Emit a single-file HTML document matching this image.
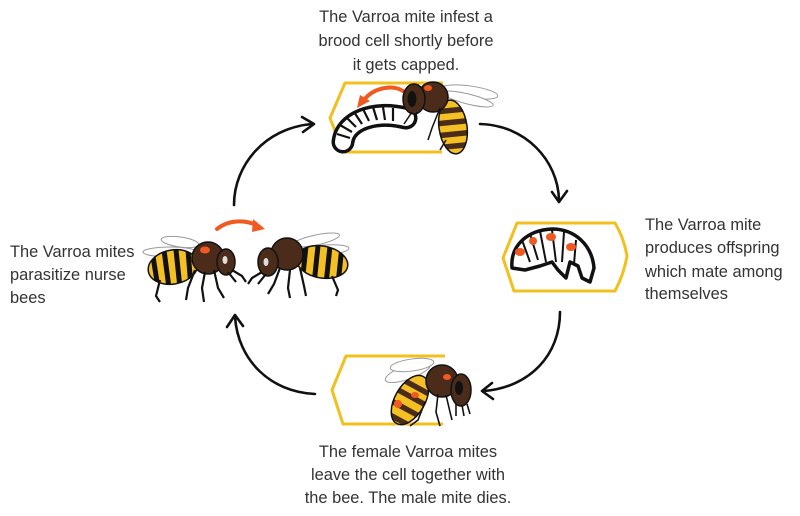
<!DOCTYPE html>
<html><head><meta charset="utf-8"><style>
html,body{margin:0;padding:0;background:#fff;}
svg{display:block;}
text{font-family:"Liberation Sans",sans-serif;font-size:16.4px;fill:#333;}
</style></head><body>
<svg width="800" height="516" viewBox="0 0 800 516" xmlns="http://www.w3.org/2000/svg">
<defs>
<clipPath id="abTop"><ellipse cx="453" cy="127" rx="14" ry="27" transform="rotate(-8 453 127)"/></clipPath>
<clipPath id="abBot"><ellipse cx="410" cy="400" rx="15" ry="27" transform="rotate(30 410 400)"/></clipPath>
<clipPath id="abL"><ellipse cx="173" cy="267" rx="25" ry="17" transform="rotate(-10 173 267)"/></clipPath>
<clipPath id="abR"><ellipse cx="322" cy="262" rx="26" ry="16" transform="rotate(10 322 262)"/></clipPath>
</defs>

<!-- texts -->
<text x="406" y="22" text-anchor="middle">The Varroa mite infest a</text>
<text x="406" y="46" text-anchor="middle">brood cell shortly before</text>
<text x="406" y="70" text-anchor="middle">it gets capped.</text>

<text x="10" y="257">The Varroa mites</text>
<text x="10" y="280">parasitize nurse</text>
<text x="10" y="303">bees</text>

<text x="645" y="230">The Varroa mite</text>
<text x="645" y="253">produces offspring</text>
<text x="645" y="277">which mate among</text>
<text x="645" y="299">themselves</text>

<text x="408" y="457" text-anchor="middle">The female Varroa mites</text>
<text x="408" y="480" text-anchor="middle">leave the cell together with</text>
<text x="408" y="503" text-anchor="middle">the bee. The male mite dies.</text>

<!-- cycle arrows -->
<g fill="none" stroke="#111" stroke-width="2.6" stroke-linecap="round" stroke-linejoin="round">
<path d="M234,205 C234,165 265,128 312,124"/>
<path d="M302,117 L314,124 L303,132"/>
<path d="M480,124 C525,125 558,160 559,200"/>
<path d="M552,192 L559,202 L567,191"/>
<path d="M560,312 C560,355 530,387 484,391"/>
<path d="M492,383 L482,391 L493,399"/>
<path d="M315,394 C270,392 238,360 235,317"/>
<path d="M227,327 L235,315 L243,326"/>
</g>

<!-- cells -->
<g fill="none" stroke="#f2c01d" stroke-width="3" stroke-linejoin="round">
<path d="M443,83 L345,83 L330,118 L343,152 L442,152"/>
<path d="M517,223 L615,223 Q624,238 627,256 Q624,274 615,291 L514,291 L503,258 Z"/>
<path d="M445,356 L346,356 L332,390 L343,424 L443,424"/>
</g>

<!-- TOP: larva -->
<g>
<path d="M343,142 C345,122 372,110 406,118" fill="none" stroke="#111" stroke-width="23" stroke-linecap="round"/>
<path d="M343,142 C345,122 372,110 406,118" fill="none" stroke="#fff" stroke-width="16" stroke-linecap="round"/>
<g stroke="#111" stroke-width="2.2">
<line x1="337" y1="134" x2="350" y2="138"/>
<line x1="340" y1="125" x2="352" y2="132"/>
<line x1="346" y1="117" x2="356" y2="127"/>
<line x1="354" y1="112" x2="362" y2="124"/>
<line x1="363" y1="109" x2="369" y2="121"/>
<line x1="373" y1="107" x2="377" y2="120"/>
<line x1="383" y1="107" x2="385" y2="120"/>
<line x1="393" y1="108" x2="393" y2="121"/>
</g>
<!-- orange arrow -->
<path d="M403,91 C392,84 373,88 364,100" fill="none" stroke="#f05a22" stroke-width="4" stroke-linecap="round"/>
<path d="M357,108 L360,95 L370,101 Z" fill="#f05a22"/>
<!-- bee -->
<ellipse cx="470" cy="92" rx="28" ry="6" transform="rotate(8 470 92)" fill="#fff" stroke="#999" stroke-width="1"/>
<ellipse cx="468" cy="99" rx="26" ry="5" transform="rotate(14 468 99)" fill="#fff" stroke="#999" stroke-width="1"/>
<g clip-path="url(#abTop)">
<rect x="435" y="95" width="40" height="65" fill="#f5c024"/>
<g stroke="#4b2c1b" stroke-width="5.5">
<line x1="435" y1="112" x2="475" y2="108"/>
<line x1="435" y1="124" x2="475" y2="120"/>
<line x1="435" y1="136" x2="475" y2="132"/>
<line x1="435" y1="148" x2="475" y2="144"/>
</g>
</g>
<ellipse cx="453" cy="127" rx="14" ry="27" transform="rotate(-8 453 127)" fill="none" stroke="#111" stroke-width="1.5"/>
<circle cx="433" cy="97" r="15" fill="#4b2c1b" stroke="#111" stroke-width="1.5"/>
<ellipse cx="414" cy="99" rx="11" ry="15" fill="#4b2c1b" stroke="#111" stroke-width="1.5"/>
<ellipse cx="412" cy="99" rx="4.5" ry="8" fill="#111"/>
<ellipse cx="428" cy="88" rx="4" ry="3" fill="#f05a22"/>
<g stroke="#111" stroke-width="1.5" fill="none">
<path d="M412,112 L404,124"/><path d="M417,112 L413,126"/>
<path d="M440,108 L432,128 L428,140"/><path d="M446,140 L440,150"/>
</g>
</g>

<!-- MIDDLE RIGHT: pupa -->
<g>
<path d="M512,268 C510,245 528,230 552,229 C575,229 592,245 594,268 L590,282 L582,278 L578,266 L570,262 L566,278 L558,270 L552,262 L540,266 L525,270 Z" fill="#fff" stroke="#111" stroke-width="3.5" stroke-linejoin="round"/>
<g stroke="#111" stroke-width="2" fill="none">
<path d="M522,240 L530,262"/><path d="M530,234 L538,260"/><path d="M540,231 L546,262"/>
<path d="M552,230 L556,262"/><path d="M564,232 L562,262"/>
<path d="M576,240 L574,264"/>
</g>
<ellipse cx="520" cy="252" rx="5" ry="4" fill="#f05a22"/>
<ellipse cx="533" cy="241" rx="4" ry="4" fill="#f05a22"/>
<ellipse cx="551" cy="237" rx="5" ry="4" fill="#f05a22"/>
<ellipse cx="571" cy="247" rx="5" ry="4" fill="#f05a22"/>
</g>

<!-- BOTTOM: bee -->
<g>
<ellipse cx="408" cy="372" rx="24" ry="7" transform="rotate(-20 408 372)" fill="#fff" stroke="#999" stroke-width="1"/>
<ellipse cx="412" cy="365" rx="22" ry="6" transform="rotate(-8 412 365)" fill="#fff" stroke="#999" stroke-width="1"/>
<g clip-path="url(#abBot)">
<rect x="385" y="370" width="55" height="65" fill="#f5c024"/>
<g stroke="#4b2c1b" stroke-width="5.5">
<line x1="385" y1="370" x2="440" y2="400"/>
<line x1="380" y1="380" x2="435" y2="410"/>
<line x1="375" y1="392" x2="430" y2="422"/>
<line x1="370" y1="404" x2="425" y2="434"/>
</g>
</g>
<ellipse cx="410" cy="400" rx="15" ry="27" transform="rotate(30 410 400)" fill="none" stroke="#111" stroke-width="1.5"/>
<circle cx="442" cy="381" r="16" fill="#4b2c1b" stroke="#111" stroke-width="1.5"/>
<ellipse cx="461" cy="390" rx="10" ry="16" fill="#4b2c1b" stroke="#111" stroke-width="1.5"/>
<ellipse cx="459" cy="388" rx="4" ry="7" fill="#111"/>
<ellipse cx="447" cy="377" rx="4" ry="3" fill="#f05a22"/>
<ellipse cx="398" cy="404" rx="4" ry="4" fill="#f05a22"/>
<ellipse cx="415" cy="395" rx="4" ry="3" fill="#f05a22"/>
<g stroke="#111" stroke-width="1.6" fill="none">
<path d="M438,394 L436,412 L440,426"/><path d="M446,395 L450,412 L452,420"/>
<path d="M456,404 L456,416"/><path d="M462,405 L464,416"/><path d="M467,404 L470,414"/>
<path d="M425,402 L418,420 L410,426"/>
</g>
</g>

<!-- LEFT: two bees -->
<g>
<!-- orange arrow -->
<path d="M217,229 C228,220 245,219 258,226" fill="none" stroke="#f05a22" stroke-width="4" stroke-linecap="round"/>
<path d="M265,229 L253,219 L252,232 Z" fill="#f05a22"/>
<!-- left bee -->
<ellipse cx="180" cy="242" rx="19" ry="5" transform="rotate(8 180 242)" fill="#fff" stroke="#999" stroke-width="1"/>
<ellipse cx="170" cy="252" rx="27" ry="5" fill="#fff" stroke="#999" stroke-width="1"/>
<g clip-path="url(#abL)">
<rect x="145" y="248" width="55" height="40" fill="#f5c024"/>
<g stroke="#111" stroke-width="5">
<line x1="152" y1="250" x2="158" y2="288"/>
<line x1="164" y1="250" x2="169" y2="288"/>
<line x1="176" y1="250" x2="180" y2="288"/>
<line x1="188" y1="250" x2="191" y2="288"/>
</g>
</g>
<ellipse cx="173" cy="267" rx="25" ry="17" transform="rotate(-10 173 267)" fill="none" stroke="#111" stroke-width="1.5"/>
<circle cx="208" cy="258" r="16" fill="#4b2c1b" stroke="#111" stroke-width="1.5"/>
<ellipse cx="226" cy="262" rx="9" ry="13" fill="#4b2c1b" stroke="#111" stroke-width="1.5"/>
<ellipse cx="225" cy="260" rx="2.5" ry="4" fill="#ddd"/>
<ellipse cx="205" cy="250" rx="5" ry="3.5" fill="#f05a22"/>
<g stroke="#111" stroke-width="2.2" fill="none">
<path d="M160,280 L156,296 L160,302"/>
<path d="M195,270 L188,288 L186,300"/>
<path d="M205,272 L202,288 L204,302"/>
<path d="M214,270 L218,288 L224,298"/>
<path d="M232,270 L242,276 L246,282"/>
<path d="M228,272 L236,282"/>
</g>
<!-- right bee -->
<ellipse cx="316" cy="240" rx="24" ry="5" transform="rotate(-12 316 240)" fill="#fff" stroke="#999" stroke-width="1"/>
<ellipse cx="325" cy="250" rx="24" ry="5" transform="rotate(-4 325 250)" fill="#fff" stroke="#999" stroke-width="1"/>
<g clip-path="url(#abR)">
<rect x="295" y="244" width="55" height="40" fill="#f5c024"/>
<g stroke="#111" stroke-width="5">
<line x1="306" y1="246" x2="302" y2="284"/>
<line x1="318" y1="246" x2="314" y2="284"/>
<line x1="330" y1="246" x2="326" y2="284"/>
<line x1="342" y1="246" x2="338" y2="284"/>
</g>
</g>
<ellipse cx="322" cy="262" rx="26" ry="16" transform="rotate(10 322 262)" fill="none" stroke="#111" stroke-width="1.5"/>
<circle cx="287" cy="254" r="16" fill="#4b2c1b" stroke="#111" stroke-width="1.5"/>
<ellipse cx="268" cy="262" rx="10" ry="14" fill="#4b2c1b" stroke="#111" stroke-width="1.5"/>
<ellipse cx="266" cy="262" rx="2.5" ry="4" fill="#ddd"/>
<g stroke="#111" stroke-width="2.2" fill="none">
<path d="M262,272 L252,278 L248,284"/>
<path d="M266,274 L258,284"/>
<path d="M280,268 L274,284 L268,294"/>
<path d="M290,270 L288,288 L290,298"/>
<path d="M300,268 L304,286 L306,296"/>
<path d="M332,276 L338,290 L336,296"/>
</g>
</g>
</svg>
</body></html>
